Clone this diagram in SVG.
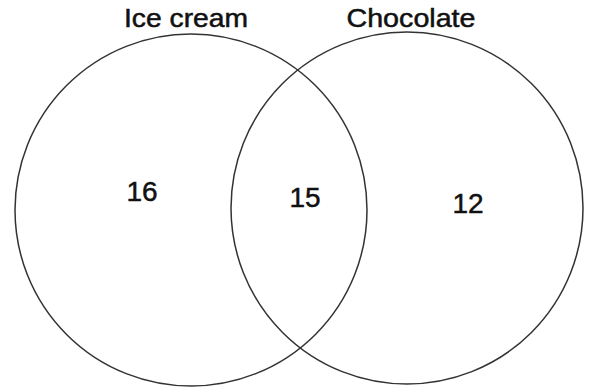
<svg xmlns="http://www.w3.org/2000/svg" width="591" height="390" viewBox="0 0 591 390">
  <style>
    .set { fill: none; stroke: #333333; stroke-width: 1.5; }
    .label { font-family: "Liberation Sans", Arial, sans-serif; font-size: 25px; fill: #111111; stroke: #111111; stroke-width: 0.5; text-anchor: middle; }
    .num { font-family: "Liberation Sans", Arial, sans-serif; font-size: 28px; fill: #111111; stroke: #111111; stroke-width: 0.5; text-anchor: middle; }
  </style>
  <rect width="591" height="390" fill="#ffffff"/>
  <g id="ice-cream">
    <circle class="set" cx="191" cy="210" r="176"/>
    <text class="label" x="186" y="27" textLength="124" lengthAdjust="spacingAndGlyphs">Ice cream</text>
    <text class="num" x="142" y="201">16</text>
  </g>
  <g id="chocolate">
    <circle class="set" cx="407" cy="208" r="176"/>
    <text class="label" x="411" y="27" textLength="129" lengthAdjust="spacingAndGlyphs">Chocolate</text>
    <text class="num" x="468" y="213">12</text>
  </g>
  <g id="both">
    <text class="num" x="305" y="207">15</text>
  </g>
  <g id="connectors"></g>
</svg>
